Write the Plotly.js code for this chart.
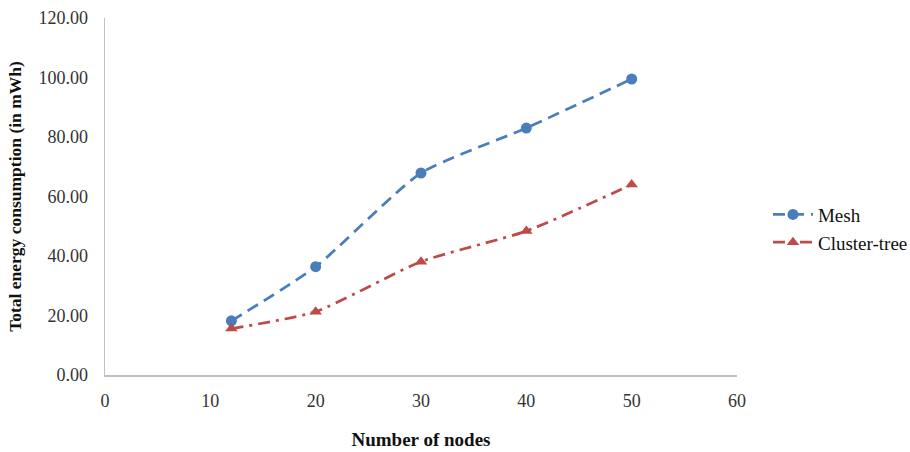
<!DOCTYPE html>
<html>
<head>
<meta charset="utf-8">
<script src="https://cdn.plot.ly/plotly-3.0.1.min.js"></script>
<style>html,body{margin:0;padding:0;background:#fff;}#chart{width:910px;height:452px;}</style>
</head>
<body>
<div id="chart"></div>
<script>
var nodes = [12, 20, 30, 40, 50];
var meshValues = [18.2, 36.4, 67.9, 83.0, 99.5];
var clusterValues = [15.6, 21.3, 38.1, 48.4, 64.0];
var seriesNames = ['Mesh', 'Cluster-tree'];
var xTicks = [0, 10, 20, 30, 40, 50, 60];
var yTicks = [0, 20, 40, 60, 80, 100, 120];

var font = 'Liberation Serif, Times New Roman, serif';
var traces = [
  {x: nodes, y: meshValues, name: seriesNames[0], type: 'scatter', mode: 'lines+markers',
   line: {color: '#4A7EBB', width: 2.75, dash: '12px,7px', shape: 'spline', smoothing: 0.6},
   marker: {color: '#4A7EBB', size: 11, symbol: 'circle'}},
  {x: nodes, y: clusterValues, name: seriesNames[1], type: 'scatter', mode: 'lines+markers',
   line: {color: '#BE4B48', width: 2.75, dash: '12px,6px,3px,6px', shape: 'spline', smoothing: 0.6},
   marker: {color: '#BE4B48', size: 11, symbol: 'triangle-up'}}
];
var layout = {
  width: 910, height: 452,
  margin: {l: 105, r: 173, t: 18, b: 77, autoexpand: false},
  paper_bgcolor: '#fff', plot_bgcolor: '#fff',
  font: {family: font, size: 18, color: '#333'},
  showlegend: true,
  legend: {x: 1.049, y: 0.41, xanchor: 'left', yanchor: 'middle', itemwidth: 40,
    font: {family: font, size: 19, color: '#111'}, bgcolor: 'rgba(0,0,0,0)'},
  xaxis: {range: [0, 60], tickvals: xTicks, ticktext: xTicks.map(String), showgrid: false, zeroline: false,
    showline: true, linecolor: '#C0C0C0', linewidth: 1.5, ticks: '', ticklen: 0, ticklabelstandoff: 9,
    tickfont: {family: font, size: 18, color: '#333'},
    title: {text: '<b>Number of nodes</b>', font: {family: font, size: 19, color: '#111'}, standoff: 22}},
  yaxis: {range: [0, 120], tickvals: yTicks, ticktext: yTicks.map(function(v){return v.toFixed(2);}), showgrid: false, zeroline: false,
    showline: true, linecolor: '#C0C0C0', linewidth: 1.5, ticks: '', ticklen: 0, ticklabelstandoff: 12,
    tickfont: {family: font, size: 18, color: '#333'},
    title: {text: '<b>Total energy consumption (in mWh)</b>', font: {family: font, size: 17.5, color: '#111'}, standoff: 12}}
};
Plotly.newPlot('chart', traces, layout, {displayModeBar: false, staticPlot: true});
</script>
</body>
</html>
